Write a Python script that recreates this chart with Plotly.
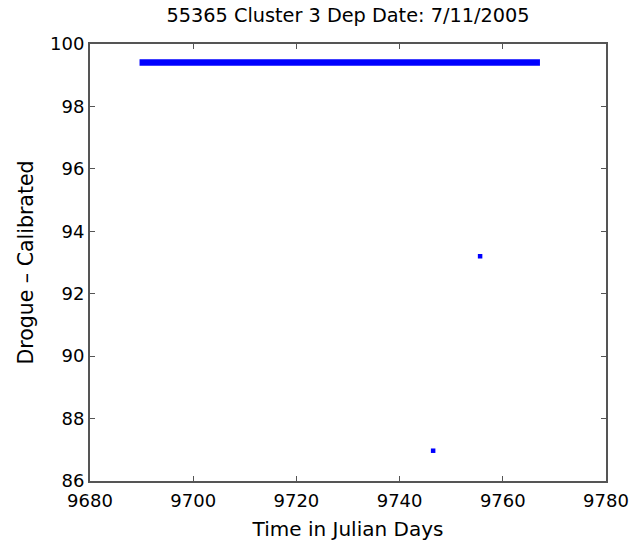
import plotly.graph_objects as go

# Main drogue series (constant value band) - start/end of record
band_days = [9689.6, 9767.2]
band_vals = [99.41, 99.41]

# Outlier samples
outlier_days = [9746.5, 9755.6]
outlier_vals = [86.97, 93.2]

x_ticks = [9680, 9700, 9720, 9740, 9760, 9780]
x_tick_labels = ["9680", "9700", "9720", "9740", "9760", "9780"]
y_ticks = [86, 88, 90, 92, 94, 96, 98, 100]
y_tick_labels = ["86", "88", "90", "92", "94", "96", "98", "100"]

FONT = "DejaVu Sans"
W, H = 631, 541

fig = go.Figure()
fig.add_trace(go.Scatter(
    x=band_days, y=band_vals, mode="lines",
    line=dict(color="#0000ff", width=6.5),
    showlegend=False, hoverinfo="skip",
))
fig.add_trace(go.Scatter(
    x=outlier_days, y=outlier_vals, mode="markers",
    marker=dict(color="#0000ff", size=4.5, symbol="square", line=dict(width=0)),
    showlegend=False,
))

axis_common = dict(
    showgrid=False, zeroline=False, showline=True, linecolor="#555555",
    linewidth=2, mirror="ticks", ticks="inside", ticklen=5,
    tickcolor="#555555", tickwidth=1, automargin=False,
    ticklabeloverflow="allow",
    tickfont=dict(family=FONT, size=18, color="black"),
)

fig.update_layout(
    width=W, height=H,
    margin=dict(l=90, r=25, t=44, b=60),
    paper_bgcolor="white", plot_bgcolor="white",
    title=dict(text="55365 Cluster 3 Dep Date: 7/11/2005",
               x=348 / W, xanchor="center", xref="container",
               y=1 - 15.5 / H, yanchor="middle", yref="container",
               font=dict(family=FONT, size=19.3, color="black")),
    xaxis=dict(range=[9680, 9780], tickvals=x_ticks, ticktext=x_tick_labels,
               ticklabelstandoff=2,
               title=dict(text="Time in Julian Days", standoff=13,
                          font=dict(family=FONT, size=20, color="black")),
               **axis_common),
    yaxis=dict(range=[86, 100], tickvals=y_ticks, ticktext=y_tick_labels,
               title=dict(text="Drogue – Calibrated", standoff=11,
                          font=dict(family=FONT, size=20.5, color="black")),
               **axis_common),
)

fig.write_html(
    "out.html",
    config={"displayModeBar": False},
    post_script="document.body.style.margin='0';document.body.style.overflow='hidden';",
)
